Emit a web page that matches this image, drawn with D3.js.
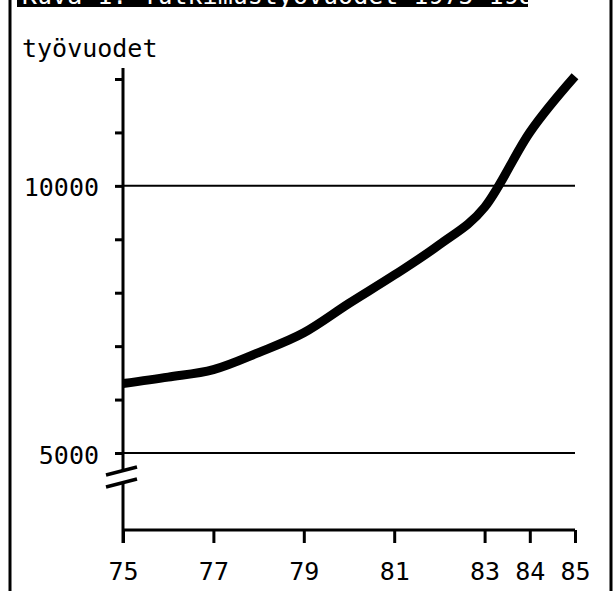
<!DOCTYPE HTML>
<html lang="fi">
  <head>
    <meta http-equiv="content-type" content="text/html; charset=utf-8"/>
    <title>Työvuodet 1975-1985</title>
    <style type="text/css">
      body { margin: 0; background: #fff; }
      svg { display: block; }
      text { font-family: "DejaVu Sans Mono", "Liberation Mono", monospace; font-size: 25px; fill: #000; }
      .grid { stroke: #000; stroke-width: 2px; }
      .line { fill: none; stroke: #000; stroke-width: 9px; }
      .axis path { display: none; }
      .axis line { stroke: #000; stroke-width: 3px; }
    </style>
  </head>
  <body>
    <script type="text/javascript" src="https://d3js.org/d3.v7.min.js"></script>
    <div id="chart"></div>
    <script>
      // data
      var years = [75, 76, 77, 78, 79, 80, 81, 82, 83, 84, 85];
      var workYears = [6300, 6420, 6560, 6880, 7250, 7800, 8330, 8900, 9600, 11000, 12050];
      var xTicks = [75, 77, 79, 81, 83, 84, 85];
      var yTicks = [5000, 6000, 7000, 8000, 9000, 10000, 11000, 12000];
      var yLabels = [5000, 10000];
      var gridValues = [5000, 10000];
      var yTitle = "työvuodet";
      var title = "Kuva 1. Tutkimustyövuodet 1975-1985";

      var width = 614, height = 591;
      var axisTop = 68, axisBottom = 530, breakGap = 12;

      var x = d3.scaleLinear().domain([75, 85]).range([123, 575]);
      var y = d3.scaleLinear().domain([5000, 12000]).range([453, 79]);

      var svg = d3.select("#chart")
        .append("svg")
          .attr("width", width)
          .attr("height", height);

      // page frame + cut-off title band
      svg.append("line").attr("x1", 10).attr("x2", 10).attr("y1", 0).attr("y2", height)
        .attr("stroke", "#000").attr("stroke-width", 3);
      svg.append("line").attr("x1", 611).attr("x2", 611).attr("y1", 0).attr("y2", height)
        .attr("stroke", "#000").attr("stroke-width", 3);
      svg.append("rect").attr("x", 17).attr("y", 0).attr("width", 511).attr("height", 7)
        .attr("fill", "#000");
      svg.append("clipPath").attr("id", "band")
        .append("rect").attr("x", 17).attr("y", 0).attr("width", 511).attr("height", 7);
      svg.append("text")
        .attr("clip-path", "url(#band)")
        .attr("x", 22).attr("y", 4)
        .style("fill", "#fff")
        .text(title);

      // gridlines at 5000 and 10000
      svg.selectAll(".grid")
          .data(gridValues)
        .enter().append("line")
          .attr("class", "grid")
          .attr("x1", x(75)).attr("x2", x(85))
          .attr("y1", function(d) { return y(d); })
          .attr("y2", function(d) { return y(d); });

      // x axis line
      svg.append("line")
        .attr("x1", x(75)).attr("x2", x(85))
        .attr("y1", axisBottom).attr("y2", axisBottom)
        .attr("stroke", "#000").attr("stroke-width", 3);

      svg.append("g")
        .attr("class", "axis")
        .attr("transform", "translate(0," + axisBottom + ")")
        .call(d3.axisBottom(x).tickValues(xTicks).tickSize(13).tickPadding(19)
          .tickFormat(function(d) { return d; }))
        .selectAll("text").style("font-size", "25px");

      // y axis, broken below 5000
      var breakY = y(5000) + 24;
      svg.append("line")
        .attr("x1", x(75)).attr("x2", x(75))
        .attr("y1", axisTop).attr("y2", breakY - breakGap / 2)
        .attr("stroke", "#000").attr("stroke-width", 3);
      svg.append("line")
        .attr("x1", x(75)).attr("x2", x(75))
        .attr("y1", breakY + breakGap / 2).attr("y2", axisBottom + 13)
        .attr("stroke", "#000").attr("stroke-width", 3);
      [-6, 6].forEach(function(off) {
        svg.append("line")
          .attr("x1", x(75) - 17).attr("x2", x(75) + 14)
          .attr("y1", breakY + off + 4).attr("y2", breakY + off - 4)
          .attr("stroke", "#000").attr("stroke-width", 3.5);
      });

      svg.append("g")
        .attr("class", "axis")
        .attr("transform", "translate(" + x(75) + ",0)")
        .call(d3.axisLeft(y).tickValues(yTicks).tickSize(8).tickPadding(16)
          .tickFormat(function(d) { return yLabels.indexOf(d) >= 0 ? d : ""; }))
        .selectAll("text").style("font-size", "25px").attr("dy", "0.4em");

      svg.append("text")
        .attr("x", 22).attr("y", 57)
        .text(yTitle);

      // the curve
      var line = d3.line()
        .x(function(d, i) { return x(years[i]); })
        .y(function(d) { return y(d); })
        .curve(d3.curveMonotoneX);

      svg.append("path")
        .datum(workYears)
        .attr("class", "line")
        .attr("d", line);
    </script>
  </body>
</html>
